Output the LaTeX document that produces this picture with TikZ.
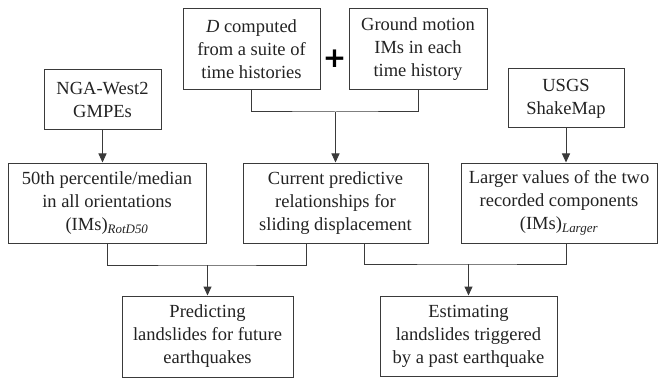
\documentclass[tikz,border=0pt]{standalone}
\usepackage{fontspec}
\setmainfont{Liberation Serif}
\newfontfamily\tnr{Liberation Serif}
\newfontfamily\dvs{DejaVu Sans}
\usetikzlibrary{arrows.meta,calc}
\definecolor{ln}{HTML}{3A3A3A}
\definecolor{tx}{HTML}{222222}
\tikzset{
  box/.style={draw=ln, line width=1pt, align=center, text=tx, inner sep=0pt,
    font=\tnr\fontsize{18.5}{23}\selectfont},
  conn/.style={draw=ln, line width=1pt},
  arr/.style={conn, -{Triangle[width=8pt,length=9pt]}},
}
\begin{document}
\begin{tikzpicture}[x=1pt,y=-1pt]
\useasboundingbox (0,0) rectangle (660,382);
\node[box, minimum width=137pt, minimum height=81pt] (D) at (251.5,49.5) {\textit{D} computed\\from a suite of\\time histories};
\node[box, minimum width=138pt, minimum height=81pt] (G) at (418,49.5) {Ground motion\\IMs in each\\time history};
\node[text=black, inner sep=0pt, font=\dvs\bfseries\fontsize{28}{28}\selectfont] (plus) at (334.5,58.5) {+};
\node[box, minimum width=117pt, minimum height=60pt] (N) at (102.5,100) {NGA-West2\\GMPEs};
\node[box, minimum width=116pt, minimum height=59pt] (U) at (566,98.5) {USGS\\ShakeMap};
\node[box, minimum width=198pt, minimum height=80pt] (P50) at (107,203) {50th percentile/median\\in all orientations\\(IMs)\textsubscript{\textit{RotD50}}};
\node[box, minimum width=185pt, minimum height=80pt] (C) at (335.5,203) {Current predictive\\relationships for\\sliding displacement};
\node[box, minimum width=196pt, minimum height=80pt] (L) at (559,203) {Larger values of the two\\recorded components\\(IMs)\textsubscript{\textit{Larger}}};
\node[box, minimum width=171pt, minimum height=81pt] (PR) at (207.5,336.5) {Predicting\\landslides for future\\earthquakes};
\node[box, minimum width=177pt, minimum height=80pt] (E) at (468.5,336) {Estimating\\landslides triggered\\by a past earthquake};
% top merge
\coordinate (m1) at (335.5,112);
\draw[conn] (D.south) |- (m1) -| (G.south);
\draw[arr] (m1) -- (C.north);
\draw[arr] (N.south) -- (N.south |- P50.north);
\draw[arr] (U.south) -- (U.south |- L.north);
% bottom left merge
\coordinate (cl) at (306,243);
\coordinate (m2) at (207.5,265);
\draw[conn] (P50.south) |- (m2) -| (cl);
\draw[arr] (m2) -- (PR.north);
% bottom right merge
\coordinate (cr) at (364,243);
\coordinate (lr) at (566,243);
\coordinate (m3) at (468.5,264);
\draw[conn] (cr) |- (m3) -| (lr);
\draw[arr] (m3) -- (E.north);
\end{tikzpicture}
\end{document}
